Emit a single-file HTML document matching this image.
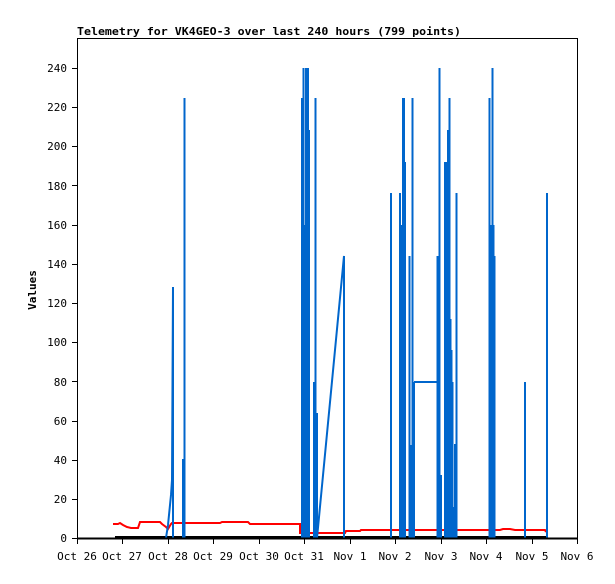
<!DOCTYPE html>
<html><head><meta charset="utf-8"><style>
body{margin:0;background:#fff;}
svg text{font-family:"DejaVu Sans Mono","Liberation Mono",monospace;font-size:11px;fill:#000;}
</style></head><body>
<svg width="615" height="579" xmlns="http://www.w3.org/2000/svg">
<rect width="615" height="579" fill="#fff"/>
<text x="77" y="35" textLength="384" lengthAdjust="spacingAndGlyphs" style="font-weight:bold">Telemetry for VK4GEO-3 over last 240 hours (799 points)</text>
<text x="36" y="290" transform="rotate(-90 36 290)" text-anchor="middle" style="font-weight:bold">Values</text>
<g id="yt" text-anchor="end">
<text x="67" y="542">0</text><text x="67" y="503">20</text><text x="67" y="464">40</text><text x="67" y="425">60</text><text x="67" y="386">80</text><text x="67" y="346">100</text><text x="67" y="307">120</text><text x="67" y="268">140</text><text x="67" y="229">160</text><text x="67" y="190">180</text><text x="67" y="150">200</text><text x="67" y="111">220</text><text x="67" y="72">240</text>
</g>
<g stroke="#000" stroke-width="1">
<path d="M72 538.5h5M72 499.5h5M72 460.5h5M72 421.5h5M72 381.5h5M72 342.5h5M72 303.5h5M72 264.5h5M72 225.5h5M72 185.5h5M72 146.5h5M72 107.5h5M72 68.5h5"/>
<path d="M77.5 538v6M122.5 538v6M168.5 538v6M213.5 538v6M259.5 538v6M304.5 538v6M350.5 538v6M395.5 538v6M441.5 538v6M486.5 538v6M532.5 538v6M577.5 538v6"/>
</g>
<g text-anchor="middle">
<text x="77" y="560">Oct 26</text><text x="122" y="560">Oct 27</text><text x="168" y="560">Oct 28</text><text x="213" y="560">Oct 29</text><text x="259" y="560">Oct 30</text><text x="304" y="560">Oct 31</text><text x="350" y="560">Nov 1</text><text x="395" y="560">Nov 2</text><text x="441" y="560">Nov 3</text><text x="486" y="560">Nov 4</text><text x="532" y="560">Nov 5</text><text x="577" y="560">Nov 6</text>
</g>
<polyline fill="none" stroke="#ff0000" stroke-width="2" points="113,524 118,524 120,523 123,525 127,527 131,528 138,528 140,522 160,522 162,524 166,527 168,529 171,524 172,523 220,523 222,522 248,522 250,524 300,524 300,533 345,533 346,531 360,531 361,530 400,530 500,530 503,529 510,529 515,530 545,530 546,532"/>
<path d="M115 537H548" stroke="#000" stroke-width="2"/>
<g stroke="#0066cc" stroke-width="2" fill="none">
<polyline points="166,538 168,525 169,515 170,505 171,495 172,480 173,287 173,538"/>
<path d="M183 538V459M184.5 538V98"/>
<path d="M302 538V98M303.5 538V68M305 538V225M306 538V68M308 538V68M309 538V130M314 538V382M315.5 538V98M317 538V413"/>
<polyline points="317,538 344,256 344,538"/>
<path d="M391 538V193M400 538V193M401 538V225M403 538V98M404 538V98M405 538V162M409.5 538V256M411 538V445M412.5 538V98M414 538V382"/>
<path d="M414 382H437"/>
<path d="M437.5 538V256M438.5 538V445M439.5 538V68M441 538V475M445 538V162M446.5 538V162M448 538V130M449.5 538V98M450.5 538V319M451.5 538V350M452.5 538V382M453.5 538V507M455 538V444M456.5 538V193"/>
<path d="M489.5 538V98M491.5 538V225M492.5 538V68M493.5 538V225M494.5 538V256M525 538V382M547 538V193"/>
</g>
<rect x="77.5" y="38.5" width="500" height="500" fill="none" stroke="#000" stroke-width="1"/>
<path d="M77 538.5H578" stroke="#000" stroke-width="2"/>
</svg>
</body></html>
